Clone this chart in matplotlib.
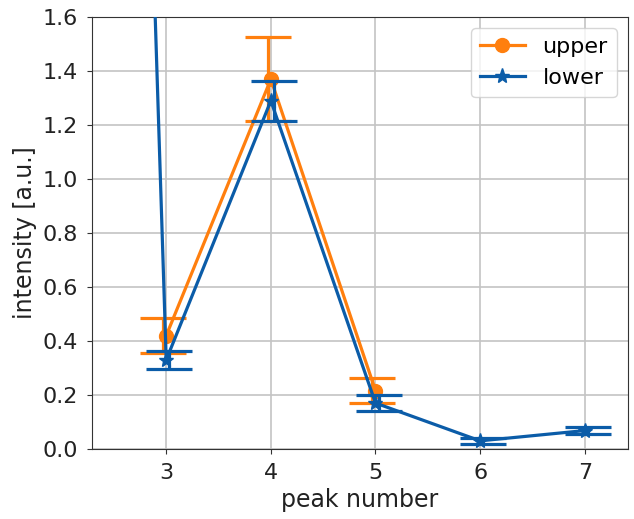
import matplotlib
matplotlib.use("Agg")
import matplotlib.pyplot as plt
import numpy as np

peaks_upper = np.array([3, 4, 5])
upper = np.array([0.42, 1.37, 0.216])
upper_err = np.array([0.066, 0.155, 0.045])

peaks_lower = np.array([2, 3, 4, 5, 6, 7])
lower = np.array([12.4, 0.33, 1.29, 0.17, 0.03, 0.068])
lower_err = np.array([0.5, 0.033, 0.074, 0.03, 0.012, 0.014])

xticks = [3, 4, 5, 6, 7]
orange = "#ff7f0e"
blue = "#0b5ca8"

fig = plt.figure(figsize=(6.34, 5.19), dpi=100)
ax = fig.add_axes([0.145, 0.135, 0.845, 0.832])

lw = 2.3
fs = 16
ax.errorbar(peaks_upper - 0.03, upper, yerr=upper_err, fmt='none', ecolor=orange,
            elinewidth=lw, capsize=16.5, capthick=lw, zorder=3)
ax.plot(peaks_upper, upper, '-o', color=orange, lw=lw, ms=10, label='upper', zorder=3)
ax.errorbar(peaks_lower + 0.03, lower, yerr=lower_err, fmt='none', ecolor=blue,
            elinewidth=lw, capsize=16.5, capthick=lw, zorder=4)
ax.plot(peaks_lower, lower, '-*', color=blue, lw=lw, ms=11, label='lower', zorder=4)

ax.set_xlim(2.29, 7.41)
ax.set_ylim(0, 1.6)
ax.set_xticks(xticks)
ax.set_yticks(np.arange(0, 1.61, 0.2))
ax.grid(True, color='#c4c4c4', lw=1.2)
ax.set_axisbelow(True)
for s in ax.spines.values():
    s.set_color('#333333')
ax.tick_params(labelsize=fs, color='#333333', labelcolor='#222222', pad=6.5)
ax.set_xlabel('peak number', fontsize=17, color='#222222')
ax.set_ylabel('intensity [a.u.]', fontsize=17, color='#222222')
ax.legend(loc='upper right', fontsize=fs)

fig.savefig("out.png", dpi=100)
